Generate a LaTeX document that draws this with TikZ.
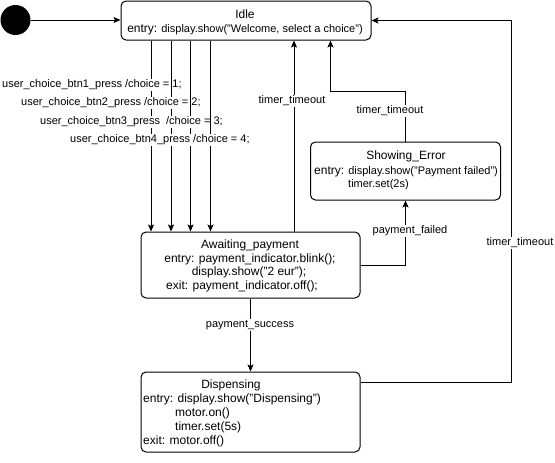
\documentclass[tikz,border=0pt]{standalone}
\usepackage{fontspec}
\setmainfont{Liberation Sans}
\usetikzlibrary{arrows.meta}
\tikzset{
  state/.style={draw=black, line width=1pt, rounded corners=5pt, rectangle, inner sep=0pt},
  arr/.style={line width=1pt, -{Stealth[length=7pt,width=6pt,inset=1.5pt]}},
  ln/.style={line width=1pt},
  tA/.style={inner sep=0pt, font=\fontsize{11}{13}\selectfont},
  tB/.style={inner sep=0pt, font=\fontsize{12}{14}\selectfont},
  elab/.style={fill=white, inner sep=1pt, text height=8pt, text depth=2.5pt, font=\fontsize{11}{13}\selectfont}
}
\newcommand{\bigent}{{\fontsize{12}{14}\selectfont entry:} }
\begin{document}
\begin{tikzpicture}[x=1pt,y=-1pt]
\useasboundingbox (0,0) rectangle (555,463);
% initial state
\node[circle, fill=black, minimum size=30pt, inner sep=0pt] (init) at (15.5,20) {};
% states
\node[state, minimum width=250pt, minimum height=39pt] (Idle) at (246,20.5) {};
\node[state, minimum width=219pt, minimum height=66pt] (Await) at (250.5,265) {};
\node[state, minimum width=190pt, minimum height=58pt] (Err) at (405.5,171) {};
\node[state, minimum width=219pt, minimum height=80pt] (Disp) at (250.5,412) {};
% state texts
\node[tB, anchor=base] (idleT) at (245,18) {Idle};
\node[tA, anchor=base] (idleE) at (245,32) {\bigent display.show("Welcome, select a choice")};
\node[tB, anchor=base] (awT) at (250,248) {Awaiting\_payment};
\node[tB, anchor=base] (awE) at (250,262) {entry: payment\_indicator.blink();};
\node[tB, anchor=base] (awD) at (249,275) {display.show("2 eur");};
\node[tB, anchor=base west] (awX) at (166,289) {exit: payment\_indicator.off();};
\node[tB, anchor=base] (erT) at (406,159) {Showing\_Error};
\node[tA, anchor=base west] (erE) at (314,174) {\bigent display.show("Payment failed")};
\node[tA, anchor=base west] (erS) at (348,187) {timer.set(2s)};
\node[tB, anchor=base] (dpT) at (231,388) {Dispensing};
\node[tB, anchor=base west] (dpE) at (143,402) {entry: display.show("Dispensing")};
\node[tB, anchor=base west] (dpM) at (175,416) {motor.on()};
\node[tB, anchor=base west] (dpS) at (175,430) {timer.set(5s)};
\node[tB, anchor=base west] (dpX) at (143,444) {exit: motor.off()};
% coordinates
\coordinate (x1) at (151,0);
\coordinate (x2) at (171,0);
\coordinate (x3) at (190.5,0);
\coordinate (x4) at (210.5,0);
\coordinate (x5) at (294,0);
\coordinate (k1) at (330.5,91);
\coordinate (k2) at (511.5,382);
% edges
\draw[arr] (init) -- (Idle.west |- init);
\draw[arr] (Idle.south -| x1) -- (Await.north -| x1);
\node[elab, anchor=west] (l1) at (1,85) {user\_choice\_btn1\_press /choice = 1;};
\draw[arr] (Idle.south -| x2) -- (Await.north -| x2);
\node[elab, anchor=west] (l2) at (20,103) {user\_choice\_btn2\_press /choice = 2;};
\draw[arr] (Idle.south -| x3) -- (Await.north -| x3);
\node[elab, anchor=west] (l3) at (39,122) {user\_choice\_btn3\_press\ \ /choice = 3;};
\draw[arr] (Idle.south -| x4) -- (Await.north -| x4);
\node[elab, anchor=west] (l4) at (69,140) {user\_choice\_btn4\_press /choice = 4;};
\draw[arr] (Await.north -| x5) -- (Idle.south -| x5);
\node[elab] (l5) at (292,101) {timer\_timeout};
\draw[arr] (Err.north) |- (k1) -- (Idle.south -| k1);
\node[elab] (l6) at (390,111) {timer\_timeout};
\draw[arr] (Await.east) -| (Err.south);
\node[elab] (l7) at (410,231) {payment\_failed};
\draw[arr] (Await.south) -- (Disp.north);
\node[elab] (l8) at (250,325) {payment\_success};
\draw[arr] (Disp.east |- k2) -- (k2) |- (Idle.east);
\node[elab] (l9) at (520,243) {timer\_timeout};
\end{tikzpicture}
\end{document}
